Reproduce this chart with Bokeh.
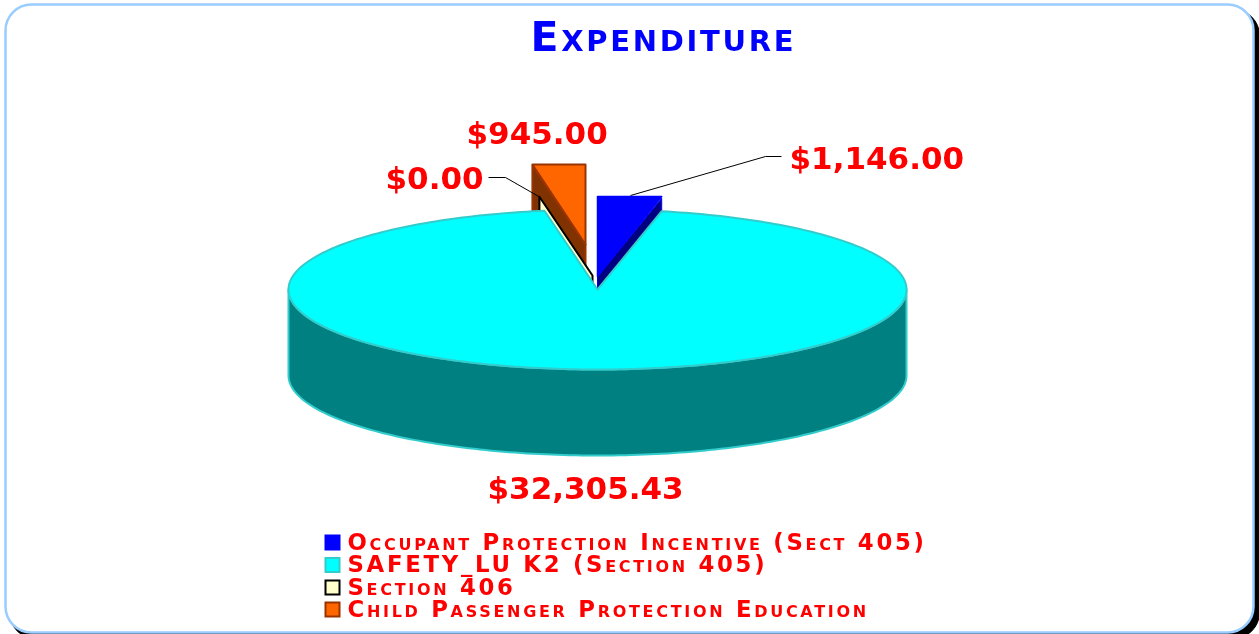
import math
from bokeh.plotting import figure
from bokeh.embed import file_html
from bokeh.resources import INLINE
from bokeh.core.properties import value

title = "Expenditure"
categories = ["Occupant Protection Incentive (Sect 405)", "SAFETY_LU K2 (Section 405)", "Section 406", "Child Passenger Protection Education"]
values = [1146.00, 32305.43, 0.00, 945.00]
face_colors = ["#0000FF", "#00FFFF", "#FFFFCC", "#FF6600"]
wall_colors = ["#000080", "#008080", "#FFFFCC", "#803300"]
edge_colors = ["#0000FF", "#33CCCC", "#000000", "#993300"]

W, H = 1259, 634
FONT = value("DejaVu Sans")
CX, CY, RX, RY, DEPTH = 597, 289, 309, 80, 86
OFFSET = [(0, -13), (0, 0), (-5, -14), (-12, -45)]

def make_fig(spacing, bg):
    f = figure(width=W, height=H, x_range=(0, W), y_range=(H, 0), output_backend="svg",
               toolbar_location=None, min_border=0, outline_line_color=None,
               x_axis_type=None, y_axis_type=None, background_fill_color=bg,
               border_fill_color=None)
    f.grid.visible = False
    f.styles = {"font-variant": "small-caps", "letter-spacing": spacing,
                "position": "fixed", "left": "0", "top": "0"}
    return f

p = make_fig("0px", "white")
q = make_fig("2.7px", None)

# panel
p.quad(left=[9], right=[1259], top=[9], bottom=[638], fill_color="black", line_color="black", border_radius=26)
p.quad(left=[5], right=[1253], top=[4], bottom=[632], fill_color="white", line_color="#99CCFF", line_width=2.5, border_radius=26)

total = sum(values)
angles = []
acc = 0.0
for v in values:
    angles.append((acc, acc + v / total * 2 * math.pi))
    acc += v / total * 2 * math.pi

def pt(t, off=(0, 0)):
    return (CX + off[0] + RX * math.sin(t), CY + off[1] - RY * math.cos(t))

def arc(a, b, off=(0, 0)):
    n = max(2, int(abs(b - a) / 0.02))
    return [pt(a + (b - a) * i / n, off) for i in range(n + 1)]

def poly(pts, fill, line, lw=2):
    p.patch([c[0] for c in pts], [c[1] for c in pts], fill_color=fill, line_color=line, line_width=lw, line_join="round")

def flat(rim):
    top = min(c[1] for c in rim)
    return [(x, top) for x, _ in rim]

# Cyan outer wall
front = arc(math.pi / 2, 3 * math.pi / 2)
poly(front + [(x, y + DEPTH) for x, y in reversed(front)], wall_colors[1], edge_colors[1])

# Child passenger slice
s, e = angles[3]
o = OFFSET[3]
apex = (CX + o[0], CY + o[1])
rim = arc(s, e, o)
wall = [apex, rim[0], (rim[0][0], rim[0][1] + DEPTH), (apex[0], apex[1] + DEPTH)]
poly(wall, wall_colors[3], edge_colors[3])
poly([apex] + flat(rim), face_colors[3], edge_colors[3])

# Zero-valued Section 406 slice
s, e = angles[2]
o = OFFSET[2]
apex = (CX + o[0], CY + o[1])
rim = pt(s, o)
poly([apex, rim, (rim[0], rim[1] + DEPTH), (apex[0], apex[1] + DEPTH)], wall_colors[2], edge_colors[2], 2)

# Occupant protection slice
s, e = angles[0]
o = OFFSET[0]
apex = (CX + o[0], CY + o[1])
rim = arc(s, e, o)
poly([rim[-1], apex, (apex[0], apex[1] + DEPTH), (rim[-1][0], rim[-1][1] + DEPTH)], wall_colors[0], edge_colors[0], 1)
poly([apex] + flat(rim), face_colors[0], edge_colors[0], 1.5)

# Cyan top face
s, e = angles[1]
poly([(CX, CY)] + arc(s, e), face_colors[1], edge_colors[1])

def money(v):
    return "${:,.2f}".format(v)

p.line([630, 765, 781], [195, 156, 156], line_color="black", line_width=1)
p.line([488, 505, 540], [177, 177, 197], line_color="black", line_width=1)

LABEL = {"text_color": "#FF0000", "text_font": FONT, "text_font_style": "bold", "text_align": "left", "text_baseline": "alphabetic"}
label_pos = [(789, 157), (487, 487), (385, 177), (466, 132)]
for v, (x, y) in zip(values, label_pos):
    p.text([x], [y], text=[money(v)], text_font_size="31px", **LABEL)

q.text([530], [36], text=[title], text_font_size="41px", **{**LABEL, "text_color": "#0000FF"})

# legend
rows = [542, 564.5, 587, 609]
for c, f, ed, y in zip(categories, face_colors, edge_colors, rows):
    p.quad(left=[325], right=[339], top=[y - 7], bottom=[y + 7], fill_color=f, line_color=ed, line_width=2, line_join="miter")
    q.text([347], [y - 1], text=[c], text_font_size="22.8px", **LABEL)

open("out.html", "w").write(file_html([p, q], INLINE))
